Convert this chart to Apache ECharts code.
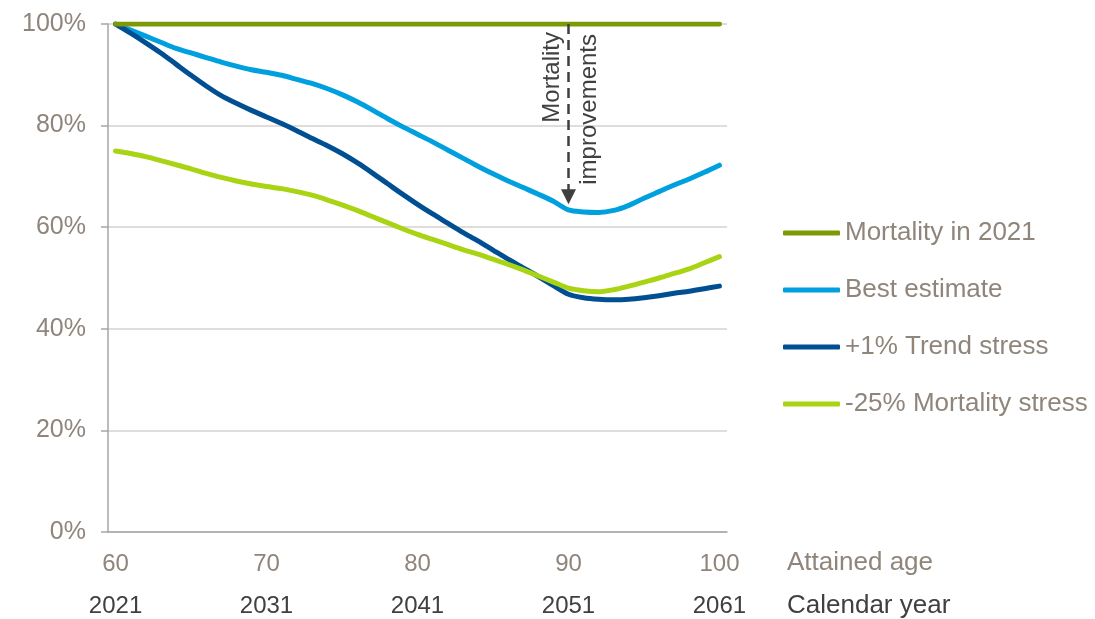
<!DOCTYPE html>
<html>
<head>
<meta charset="utf-8">
<script src="https://cdn.jsdelivr.net/npm/echarts@6/dist/echarts.min.js"></script>
<style>
html,body{margin:0;padding:0;background:#fff;}
#chart{width:1095px;height:619px;}
</style>
</head>
<body>
<div id="chart"></div>
<script>
const ages = [60,61,62,63,64,65,66,67,68,69,70,71,72,73,74,75,76,77,78,79,80,81,82,83,84,85,86,87,88,89,90,91,92,93,94,95,96,97,98,99,100];
const ageTicks = [60,70,80,90,100];
const yearTicks = [2021,2031,2041,2051,2061];
const yTicks = [0,20,40,60,80,100];

const mortality2021 = [100,100,100,100,100,100,100,100,100,100,100,100,100,100,100,100,100,100,100,100,100,100,100,100,100,100,100,100,100,100,100,100,100,100,100,100,100,100,100,100,100];
const bestEstimate = [100,98.8,97.6,96.4,95.2,94.3,93.4,92.5,91.7,91.0,90.5,89.9,89.1,88.3,87.3,86.1,84.7,83.1,81.4,79.8,78.3,76.8,75.2,73.6,72.0,70.5,69.1,67.8,66.5,65.1,63.4,63.0,62.9,63.3,64.3,65.7,67.0,68.3,69.5,70.8,72.2];
const trendStress = [100,98.2,96.3,94.3,92.1,89.9,87.8,85.9,84.4,83.0,81.7,80.4,79.0,77.5,76.1,74.5,72.7,70.7,68.6,66.5,64.5,62.6,60.8,59.0,57.3,55.5,53.7,52.0,50.3,48.5,46.8,46.1,45.8,45.7,45.8,46.1,46.5,47.0,47.4,47.9,48.4];
const mortalityStress = [75.0,74.5,73.9,73.1,72.3,71.5,70.6,69.8,69.1,68.5,68.0,67.6,67.0,66.3,65.4,64.4,63.3,62.1,60.9,59.7,58.6,57.6,56.6,55.6,54.7,53.7,52.7,51.6,50.4,49.2,48.0,47.5,47.3,47.7,48.4,49.2,50.0,50.9,51.8,53.0,54.2];

const arrowAge = '90';
const arrowFrom = 100;
const arrowTo = 66;

const FONT = "'Liberation Sans', Arial, Helvetica, sans-serif";
const GREY = '#8f857b';
const DARK = '#404040';

const chart = echarts.init(document.getElementById('chart'));

function line(name, data, color, extra) {
  return Object.assign({
    name: name,
    type: 'line',
    data: data,
    symbol: 'none',
    smooth: 0.3,
    lineStyle: { color: color, width: 5, cap: 'round', join: 'round' },
    itemStyle: { color: color },
    z: 3
  }, extra || {});
}

chart.setOption({
  animation: false,
  textStyle: { fontFamily: FONT },
  grid: { left: 108, right: 368, top: 24, bottom: 87, containLabel: false },
  xAxis: {
    type: 'category',
    data: ages.map(String),
    boundaryGap: true,
    axisLine: { show: true, lineStyle: { color: '#a6a6a6', width: 1.5 } },
    axisTick: { show: false },
    axisLabel: {
      interval: 0,
      margin: 11,
      formatter: function (v) {
        const i = ageTicks.indexOf(+v);
        return i < 0 ? '' : '{a|' + v + '}\n{b|' + yearTicks[i] + '}';
      },
      rich: {
        a: { fontSize: 24, color: GREY, lineHeight: 42, fontFamily: FONT },
        b: { fontSize: 24, color: DARK, lineHeight: 43, fontFamily: FONT }
      }
    },
    splitLine: { show: false }
  },
  yAxis: {
    type: 'value',
    min: 0,
    max: 100,
    interval: 20,
    axisLine: { show: true, lineStyle: { color: '#a6a6a6', width: 1.5 } },
    axisTick: { show: true, length: 7, lineStyle: { color: '#a6a6a6', width: 1.5 } },
    axisLabel: { formatter: '{value}%', fontSize: 25, color: GREY, margin: 22, fontFamily: FONT },
    splitLine: { show: true, lineStyle: { color: '#d4d0cc', width: 1.5 } }
  },
  legend: {
    orient: 'vertical',
    left: 783,
    top: 220,
    padding: 0,
    itemWidth: 57,
    itemHeight: 5,
    itemGap: 31,
    icon: 'roundRect',
    textStyle: { fontSize: 26, color: GREY, fontFamily: FONT },
    data: ['Mortality in 2021', 'Best estimate', '+1% Trend stress', '-25% Mortality stress']
  },
  graphic: [
    { type: 'text', left: 787, top: 550, style: { text: 'Attained age', fontSize: 26, fill: GREY, fontFamily: FONT } },
    { type: 'text', left: 787, top: 593, style: { text: 'Calendar year', fontSize: 26, fill: DARK, fontFamily: FONT } },
    { type: 'text', x: 552, y: 32, rotation: Math.PI / 2, z: 10,
      style: { text: 'Mortality', fontSize: 24, fill: DARK, fontFamily: FONT, align: 'right', verticalAlign: 'middle' } },
    { type: 'text', x: 589, y: 34, rotation: Math.PI / 2, z: 10,
      style: { text: 'improvements', fontSize: 24, fill: DARK, fontFamily: FONT, align: 'right', verticalAlign: 'middle' } }
  ],
  series: [
    line('Mortality in 2021', mortality2021, '#7d9a06', { z: 4 }),
    line('Best estimate', bestEstimate, '#00a0df', {
      markLine: {
        silent: true,
        symbol: ['none', 'triangle'],
        symbolSize: [15, 15],
        label: { show: false },
        lineStyle: { color: '#3f3f3f', width: 2.5, type: [10, 6] },
        data: [[{ coord: [arrowAge, arrowFrom] }, { coord: [arrowAge, arrowTo] }]]
      }
    }),
    line('+1% Trend stress', trendStress, '#004f92'),
    line('-25% Mortality stress', mortalityStress, '#a8d413')
  ]
});
</script>
</body>
</html>
